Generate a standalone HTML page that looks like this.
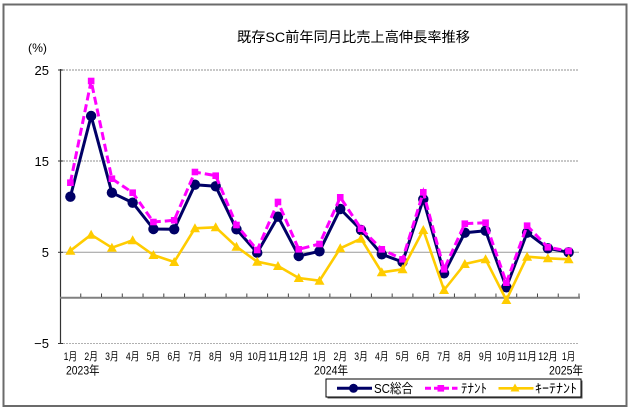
<!DOCTYPE html>
<html>
<head>
<meta charset="utf-8">
<style>
html,body{margin:0;padding:0;background:#fff;}
svg{display:block;}
text{font-family:"Liberation Sans","Noto Sans CJK JP",sans-serif;fill:#000;}
</style>
</head>
<body>
<svg width="629" height="409" viewBox="0 0 629 409" xmlns="http://www.w3.org/2000/svg">
  <rect x="0" y="0" width="629" height="409" fill="#fff"/>
  <!-- outer border -->
  <rect x="3.5" y="4.5" width="623" height="401.5" fill="none" stroke="#6b6b6b" stroke-width="2"/>

  <!-- title -->
  <text x="237" y="42" font-size="14" textLength="233" lengthAdjust="spacingAndGlyphs">既存SC前年同月比売上高伸長率推移</text>
  <text x="28" y="52" font-size="12" textLength="19" lengthAdjust="spacingAndGlyphs">(%)</text>

  <!-- gridlines -->
  <line x1="60" y1="70" x2="579" y2="70" stroke="#c8c8c8" stroke-width="2" stroke-dasharray="2,1"/>
  <line x1="60" y1="161" x2="579" y2="161" stroke="#c8c8c8" stroke-width="2" stroke-dasharray="2,1"/>
  <line x1="60" y1="252.3" x2="579" y2="252.3" stroke="#9a9a9a" stroke-width="1"/>
  <line x1="60" y1="343.5" x2="579" y2="343.5" stroke="#b0b0b0" stroke-width="1" stroke-dasharray="2,1"/>

  <!-- y axis -->
  <line x1="60.5" y1="69" x2="60.5" y2="344" stroke="#333" stroke-width="1.2"/>
  <g stroke="#333" stroke-width="1">
    <line x1="58" y1="70" x2="63" y2="70"/>
    <line x1="58" y1="161" x2="63" y2="161"/>
    <line x1="58" y1="252.3" x2="63" y2="252.3"/>
    <line x1="58" y1="343.5" x2="63" y2="343.5"/>
  </g>
  <!-- zero line -->
  <line x1="60" y1="297.8" x2="580" y2="297.8" stroke="#808080" stroke-width="2"/>
  <g stroke="#444" stroke-width="1">
    <line x1="80.76" y1="293.5" x2="80.76" y2="297"/>
    <line x1="101.52" y1="293.5" x2="101.52" y2="297"/>
    <line x1="122.28" y1="293.5" x2="122.28" y2="297"/>
    <line x1="143.04" y1="293.5" x2="143.04" y2="297"/>
    <line x1="163.8" y1="293.5" x2="163.8" y2="297"/>
    <line x1="184.56" y1="293.5" x2="184.56" y2="297"/>
    <line x1="205.32" y1="293.5" x2="205.32" y2="297"/>
    <line x1="226.08" y1="293.5" x2="226.08" y2="297"/>
    <line x1="246.84" y1="293.5" x2="246.84" y2="297"/>
    <line x1="267.6" y1="293.5" x2="267.6" y2="297"/>
    <line x1="288.36" y1="293.5" x2="288.36" y2="297"/>
    <line x1="309.12" y1="293.5" x2="309.12" y2="297"/>
    <line x1="329.88" y1="293.5" x2="329.88" y2="297"/>
    <line x1="350.64" y1="293.5" x2="350.64" y2="297"/>
    <line x1="371.4" y1="293.5" x2="371.4" y2="297"/>
    <line x1="392.16" y1="293.5" x2="392.16" y2="297"/>
    <line x1="412.92" y1="293.5" x2="412.92" y2="297"/>
    <line x1="433.68" y1="293.5" x2="433.68" y2="297"/>
    <line x1="454.44" y1="293.5" x2="454.44" y2="297"/>
    <line x1="475.2" y1="293.5" x2="475.2" y2="297"/>
    <line x1="495.96" y1="293.5" x2="495.96" y2="297"/>
    <line x1="516.72" y1="293.5" x2="516.72" y2="297"/>
    <line x1="537.48" y1="293.5" x2="537.48" y2="297"/>
    <line x1="558.24" y1="293.5" x2="558.24" y2="297"/>
    <line x1="579" y1="293.5" x2="579" y2="297"/>
  </g>

  <!-- y labels -->
  <g font-size="13" text-anchor="end">
    <text x="49" y="75">25</text>
    <text x="49" y="166">15</text>
    <text x="49" y="257">5</text>
    <text x="49" y="348">−5</text>
  </g>

  <!-- x labels -->
  <g font-size="11" text-anchor="middle" lengthAdjust="spacingAndGlyphs">
    <text x="70.38" y="360" textLength="13.5" lengthAdjust="spacingAndGlyphs">1月</text>
    <text x="91.14" y="360" textLength="13.5" lengthAdjust="spacingAndGlyphs">2月</text>
    <text x="111.9" y="360" textLength="13.5" lengthAdjust="spacingAndGlyphs">3月</text>
    <text x="132.66" y="360" textLength="13.5" lengthAdjust="spacingAndGlyphs">4月</text>
    <text x="153.42" y="360" textLength="13.5" lengthAdjust="spacingAndGlyphs">5月</text>
    <text x="174.18" y="360" textLength="13.5" lengthAdjust="spacingAndGlyphs">6月</text>
    <text x="194.94" y="360" textLength="13.5" lengthAdjust="spacingAndGlyphs">7月</text>
    <text x="215.7" y="360" textLength="13.5" lengthAdjust="spacingAndGlyphs">8月</text>
    <text x="236.46" y="360" textLength="13.5" lengthAdjust="spacingAndGlyphs">9月</text>
    <text x="257.22" y="360" textLength="19.5" lengthAdjust="spacingAndGlyphs">10月</text>
    <text x="277.98" y="360" textLength="19.5" lengthAdjust="spacingAndGlyphs">11月</text>
    <text x="298.74" y="360" textLength="19.5" lengthAdjust="spacingAndGlyphs">12月</text>
    <text x="319.5" y="360" textLength="13.5" lengthAdjust="spacingAndGlyphs">1月</text>
    <text x="340.26" y="360" textLength="13.5" lengthAdjust="spacingAndGlyphs">2月</text>
    <text x="361.02" y="360" textLength="13.5" lengthAdjust="spacingAndGlyphs">3月</text>
    <text x="381.78" y="360" textLength="13.5" lengthAdjust="spacingAndGlyphs">4月</text>
    <text x="402.54" y="360" textLength="13.5" lengthAdjust="spacingAndGlyphs">5月</text>
    <text x="423.3" y="360" textLength="13.5" lengthAdjust="spacingAndGlyphs">6月</text>
    <text x="444.06" y="360" textLength="13.5" lengthAdjust="spacingAndGlyphs">7月</text>
    <text x="464.82" y="360" textLength="13.5" lengthAdjust="spacingAndGlyphs">8月</text>
    <text x="485.58" y="360" textLength="13.5" lengthAdjust="spacingAndGlyphs">9月</text>
    <text x="506.34" y="360" textLength="19.5" lengthAdjust="spacingAndGlyphs">10月</text>
    <text x="527.1" y="360" textLength="19.5" lengthAdjust="spacingAndGlyphs">11月</text>
    <text x="547.86" y="360" textLength="19.5" lengthAdjust="spacingAndGlyphs">12月</text>
    <text x="568.62" y="360" textLength="13.5" lengthAdjust="spacingAndGlyphs">1月</text>
  </g>
  <g font-size="12">
    <text x="66" y="374.5" textLength="33.5" lengthAdjust="spacingAndGlyphs">2023年</text>
    <text x="314" y="374.5" textLength="34" lengthAdjust="spacingAndGlyphs">2024年</text>
    <text x="549" y="374.5" textLength="34" lengthAdjust="spacingAndGlyphs">2025年</text>
  </g>

  <!-- SC series -->
  <polyline fill="none" stroke="#000066" stroke-width="3" stroke-linejoin="round"
    points="70.38,196.7 91.14,116 111.9,192.7 132.66,202.7 153.42,229 174.18,229.3 194.94,184.7 215.7,186.3 236.46,229.3 257.22,252.7 277.98,216.7 298.74,256 319.5,251.3 340.26,209 361.02,230 381.78,254.3 402.54,262 423.3,199.3 444.06,273.3 464.82,232.7 485.58,230.7 506.34,287.3 527.1,232.7 547.86,248.3 568.62,252.3"/>
  <g fill="#000066">
    <circle cx="70.38" cy="196.7" r="5.2"/>
    <circle cx="91.14" cy="116" r="5.2"/>
    <circle cx="111.9" cy="192.7" r="5.2"/>
    <circle cx="132.66" cy="202.7" r="5.2"/>
    <circle cx="153.42" cy="229" r="5.2"/>
    <circle cx="174.18" cy="229.3" r="5.2"/>
    <circle cx="194.94" cy="184.7" r="5.2"/>
    <circle cx="215.7" cy="186.3" r="5.2"/>
    <circle cx="236.46" cy="229.3" r="5.2"/>
    <circle cx="257.22" cy="252.7" r="5.2"/>
    <circle cx="277.98" cy="216.7" r="5.2"/>
    <circle cx="298.74" cy="256" r="5.2"/>
    <circle cx="319.5" cy="251.3" r="5.2"/>
    <circle cx="340.26" cy="209" r="5.2"/>
    <circle cx="361.02" cy="230" r="5.2"/>
    <circle cx="381.78" cy="254.3" r="5.2"/>
    <circle cx="402.54" cy="262" r="5.2"/>
    <circle cx="423.3" cy="199.3" r="5.2"/>
    <circle cx="444.06" cy="273.3" r="5.2"/>
    <circle cx="464.82" cy="232.7" r="5.2"/>
    <circle cx="485.58" cy="230.7" r="5.2"/>
    <circle cx="506.34" cy="287.3" r="5.2"/>
    <circle cx="527.1" cy="232.7" r="5.2"/>
    <circle cx="547.86" cy="248.3" r="5.2"/>
    <circle cx="568.62" cy="252.3" r="5.2"/>
  </g>

  <!-- Tenant series -->
  <polyline fill="none" stroke="#ff00ff" stroke-width="3" stroke-dasharray="8,4"
    points="70.38,182.7 91.14,81 111.9,178.7 132.66,192.7 153.42,222 174.18,220.3 194.94,172 215.7,175.7 236.46,225 257.22,250 277.98,202 298.74,249.3 319.5,244 340.26,197.3 361.02,228.7 381.78,249.3 402.54,259.3 423.3,192.3 444.06,269.3 464.82,223.7 485.58,222.7 506.34,282.7 527.1,225.7 547.86,247.3 568.62,251"/>
  <g fill="#ff00ff">
    <rect x="67.08" y="179.4" width="6.6" height="6.6"/>
    <rect x="87.84" y="77.7" width="6.6" height="6.6"/>
    <rect x="108.6" y="175.4" width="6.6" height="6.6"/>
    <rect x="129.36" y="189.4" width="6.6" height="6.6"/>
    <rect x="150.12" y="218.7" width="6.6" height="6.6"/>
    <rect x="170.88" y="217" width="6.6" height="6.6"/>
    <rect x="191.64" y="168.7" width="6.6" height="6.6"/>
    <rect x="212.4" y="172.4" width="6.6" height="6.6"/>
    <rect x="233.16" y="221.7" width="6.6" height="6.6"/>
    <rect x="253.92" y="246.7" width="6.6" height="6.6"/>
    <rect x="274.68" y="198.7" width="6.6" height="6.6"/>
    <rect x="295.44" y="246" width="6.6" height="6.6"/>
    <rect x="316.2" y="240.7" width="6.6" height="6.6"/>
    <rect x="336.96" y="194" width="6.6" height="6.6"/>
    <rect x="357.72" y="225.4" width="6.6" height="6.6"/>
    <rect x="378.48" y="246" width="6.6" height="6.6"/>
    <rect x="399.24" y="256" width="6.6" height="6.6"/>
    <rect x="420" y="189" width="6.6" height="6.6"/>
    <rect x="440.76" y="266" width="6.6" height="6.6"/>
    <rect x="461.52" y="220.4" width="6.6" height="6.6"/>
    <rect x="482.28" y="219.4" width="6.6" height="6.6"/>
    <rect x="503.04" y="279.4" width="6.6" height="6.6"/>
    <rect x="523.8" y="222.4" width="6.6" height="6.6"/>
    <rect x="544.56" y="244" width="6.6" height="6.6"/>
    <rect x="565.32" y="247.7" width="6.6" height="6.6"/>
  </g>

  <!-- Key tenant series -->
  <polyline fill="none" stroke="#ffcc00" stroke-width="2.6" stroke-linejoin="round"
    points="70.38,250.7 91.14,234.7 111.9,247.7 132.66,240.3 153.42,255 174.18,262 194.94,228.3 215.7,227.3 236.46,246.7 257.22,261.7 277.98,266 298.74,278 319.5,280.7 340.26,248.3 361.02,238.7 381.78,272.3 402.54,269.3 423.3,230 444.06,290 464.82,264 485.58,259.3 506.34,300 527.1,256.7 547.86,258.3 568.62,259.3"/>
  <g fill="#ffcc00">
    <polygon points="70.38,245.7 65.38,254.7 75.38,254.7"/>
    <polygon points="91.14,229.7 86.14,238.7 96.14,238.7"/>
    <polygon points="111.9,242.7 106.9,251.7 116.9,251.7"/>
    <polygon points="132.66,235.3 127.66,244.3 137.66,244.3"/>
    <polygon points="153.42,250 148.42,259 158.42,259"/>
    <polygon points="174.18,257 169.18,266 179.18,266"/>
    <polygon points="194.94,223.3 189.94,232.3 199.94,232.3"/>
    <polygon points="215.7,222.3 210.7,231.3 220.7,231.3"/>
    <polygon points="236.46,241.7 231.46,250.7 241.46,250.7"/>
    <polygon points="257.22,256.7 252.22,265.7 262.22,265.7"/>
    <polygon points="277.98,261 272.98,270 282.98,270"/>
    <polygon points="298.74,273 293.74,282 303.74,282"/>
    <polygon points="319.5,275.7 314.5,284.7 324.5,284.7"/>
    <polygon points="340.26,243.3 335.26,252.3 345.26,252.3"/>
    <polygon points="361.02,233.7 356.02,242.7 366.02,242.7"/>
    <polygon points="381.78,267.3 376.78,276.3 386.78,276.3"/>
    <polygon points="402.54,264.3 397.54,273.3 407.54,273.3"/>
    <polygon points="423.3,225 418.3,234 428.3,234"/>
    <polygon points="444.06,285 439.06,294 449.06,294"/>
    <polygon points="464.82,259 459.82,268 469.82,268"/>
    <polygon points="485.58,254.3 480.58,263.3 490.58,263.3"/>
    <polygon points="506.34,295 501.34,304 511.34,304"/>
    <polygon points="527.1,251.7 522.1,260.7 532.1,260.7"/>
    <polygon points="547.86,253.3 542.86,262.3 552.86,262.3"/>
    <polygon points="568.62,254.3 563.62,263.3 573.62,263.3"/>
  </g>

  <!-- legend -->
  <rect x="327.5" y="380.5" width="255" height="18" fill="#555"/>
  <rect x="326" y="379" width="255" height="18" fill="#fff" stroke="#000" stroke-width="1"/>
  <line x1="337" y1="388.3" x2="372" y2="388.3" stroke="#000066" stroke-width="3"/>
  <circle cx="353.5" cy="388.3" r="4.5" fill="#000066"/>
  <text x="374" y="393" font-size="13" textLength="39" lengthAdjust="spacingAndGlyphs">SC総合</text>
  <line x1="425" y1="388.3" x2="457.5" y2="388.3" stroke="#ff00ff" stroke-width="3" stroke-dasharray="6,3"/>
  <rect x="437.5" y="385" width="6.6" height="6.6" fill="#ff00ff"/>
  <text x="461" y="393" font-size="13" textLength="26" lengthAdjust="spacingAndGlyphs">ﾃﾅﾝﾄ</text>
  <line x1="498.5" y1="388.3" x2="533.5" y2="388.3" stroke="#ffcc00" stroke-width="2.6"/>
  <polygon points="515,383.5 510.5,391.5 519.5,391.5" fill="#ffcc00"/>
  <text x="535" y="393" font-size="13" textLength="42" lengthAdjust="spacingAndGlyphs">ｷｰﾃﾅﾝﾄ</text>
</svg>
</body>
</html>
